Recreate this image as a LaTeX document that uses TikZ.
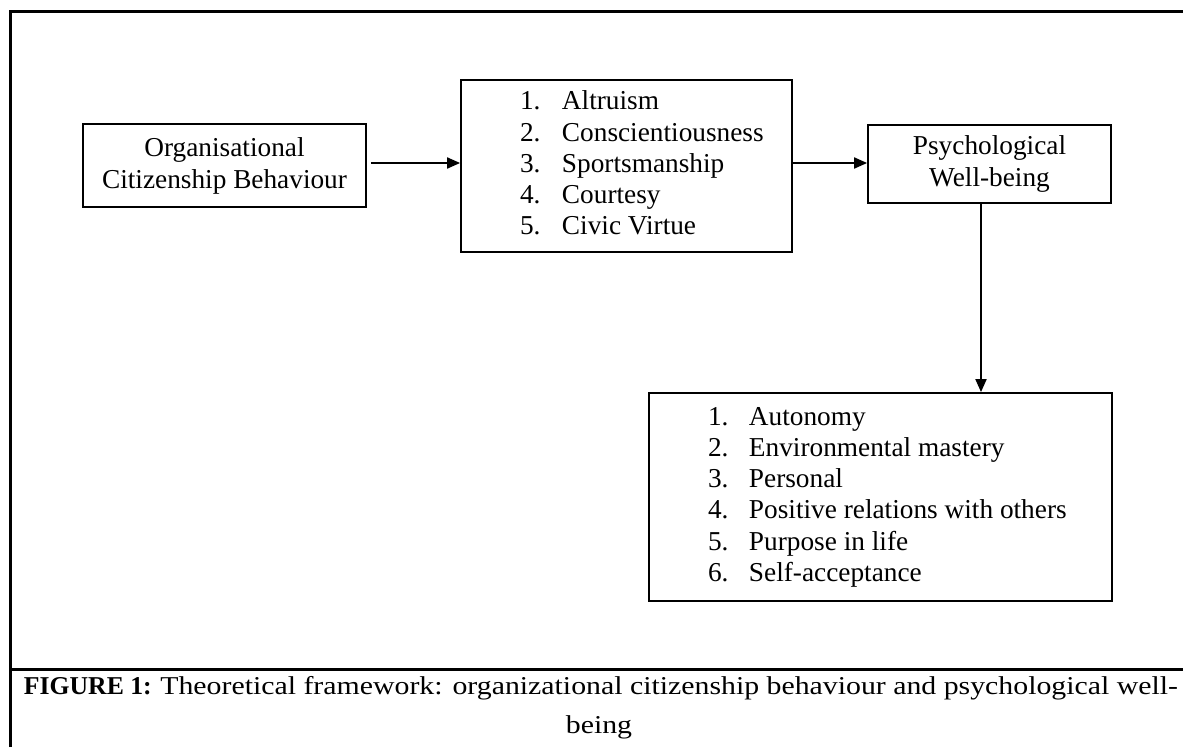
\documentclass[tikz,border=0pt]{standalone}
\usepackage{fontspec}
\setmainfont{Liberation Serif}
\usetikzlibrary{arrows.meta}
\begin{document}
\begin{tikzpicture}[x=1pt,y=-1pt,
  box/.style={draw, line width=1.8pt, inner sep=0pt, font=\fontsize{27.3}{32}\selectfont},
  listbox/.style={box, font=\fontsize{27.3}{31.2}\selectfont},
  arr/.style={line width=1.9pt, -{Triangle[length=13pt,width=11pt]}},
  frameline/.style={line width=3pt},
  captxt/.style={anchor=base, inner sep=0pt, font=\fontsize{25.7}{30}\selectfont}]
\useasboundingbox (0,0) rectangle (1183,747);
% frame of the figure cell
\draw[frameline] (10,747) -- (10,11) -- (1183,11);
\draw[frameline] (10,669) -- (1183,669);
% nodes
\node[box, minimum width=283pt, minimum height=83pt, align=center] (ocb) at (224.5,165.5)
  {Organisational\\Citizenship Behaviour};
\node[listbox, minimum height=172pt] (ocbdim) at (626.5,166)
  {\makebox[331pt][l]{\hspace{59pt}\begin{tabular}{@{}p{42pt}@{}l@{}}
    1.&Altruism\\
    2.&Conscientiousness\\
    3.&Sportsmanship\\
    4.&Courtesy\\
    5.&Civic Virtue
  \end{tabular}}};
\node[box, minimum width=243pt, minimum height=78pt, align=center] (pwb) at (989.5,164)
  {Psychological\\Well-being};
\node[listbox, minimum height=208pt] (pwbdim) at (880.5,497)
  {\makebox[463pt][l]{\hspace{59pt}\begin{tabular}{@{}p{41pt}@{}l@{}}
    1.&Autonomy\\
    2.&Environmental mastery\\
    3.&Personal\\
    4.&Positive relations with others\\
    5.&Purpose in life\\
    6.&Self-acceptance
  \end{tabular}}};
% connectors
\draw[arr] ([xshift=4pt,yshift=2.5pt]ocb.east) coordinate (a1) -- (a1 -| ocbdim.west);
\draw[arr] ([yshift=3pt]ocbdim.east) coordinate (a2) -- (a2 -| pwb.west);
\draw[arr] ([xshift=-8.5pt]pwb.south) -- ([xshift=-8.5pt]pwb.south |- pwbdim.north);
% caption
\node[captxt] (cap1) at (601,694) {\textbf{FIGURE 1:} \scalebox{1.16}[1]{Theoretical framework: organizational citizenship behaviour and psychological well-}};
\node[captxt] (cap2) at (599,733) {\scalebox{1.16}[1]{being}};
\end{tikzpicture}
\end{document}
